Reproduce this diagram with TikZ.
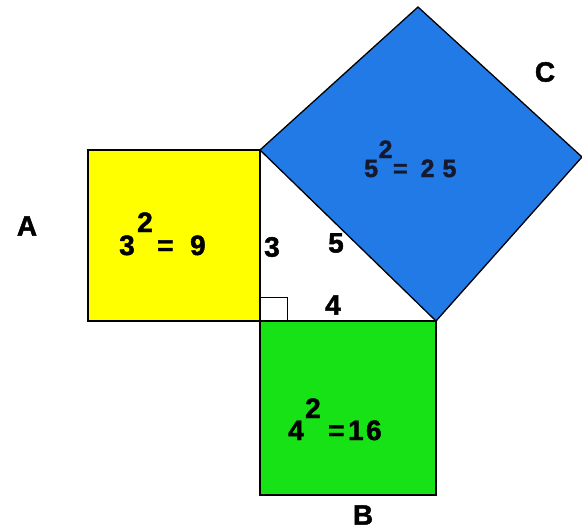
\documentclass[tikz,border=0pt]{standalone}
\usepackage{fontspec}
\setmainfont{Liberation Sans}
\newfontfamily\heavyfont{Liberation Sans}[UprightFont=*-Bold, FakeBold=1.6]
\newcommand\sqexp[2]{\raisebox{#1}{#2}}
\begin{document}
\begin{tikzpicture}[
  x=1pt, y=-1pt,
  font=\heavyfont\fontsize{28}{32}\selectfont,
  face/.style={draw=black, line width=1.3pt, line join=miter},
  anglemark/.style={draw=black, line width=0.9pt},
  lbl/.style={inner sep=0pt},
  eqn/.style={inner sep=0pt, anchor=base west}
]
\definecolor{sqyellow}{RGB}{255,255,0}
\definecolor{sqgreen}{RGB}{22,226,22}
\definecolor{sqblue}{RGB}{34,122,230}
\definecolor{ink}{RGB}{20,25,45}

\useasboundingbox (0,0) rectangle (582,530);

% corners of the right triangle
\coordinate (right) at (260,321);
\coordinate (top) at (260,150);
\coordinate (foot) at (436,321);

% the three squares
\fill[sqblue] (top) -- (418,7) -- (582,157) -- (foot) -- cycle;
\draw[face] (top) -- (418,7) -- (582,157) -- (foot) -- cycle;
\draw[face, fill=sqyellow] (88,150) rectangle (right);
\draw[face, fill=sqgreen] (right) rectangle (436,495);

% right angle mark
\draw[anglemark] (right) rectangle (287,297);

% squares' areas
\node[eqn] (areaA) at (119,255) {3\kern2.4pt\sqexp{23pt}{2}\kern4.4pt=\kern16.6pt9};
\node[eqn, text=ink, font=\heavyfont\fontsize{25}{28}\selectfont] (areaC) at (364,177)
  {5\kern0.5pt\sqexp{19pt}{2}\kern0.5pt=\kern13pt2\kern8pt5};
\node[eqn] (areaB) at (288,440) {4\kern1.4pt\sqexp{22pt}{2}\kern7.4pt=\kern3.6pt1\kern2.4pt6};

% side lengths
\node[lbl] (sideA) at (272,247) {3};
\node[lbl] (sideC) at (336,243) {5};
\node[lbl] (sideB) at (333,305) {4};

% square names
\node[lbl] (nameA) at (27,226) {A};
\node[lbl] (nameB) at (363,515) {B};
\node[lbl] (nameC) at (545,72) {C};
\end{tikzpicture}
\end{document}
